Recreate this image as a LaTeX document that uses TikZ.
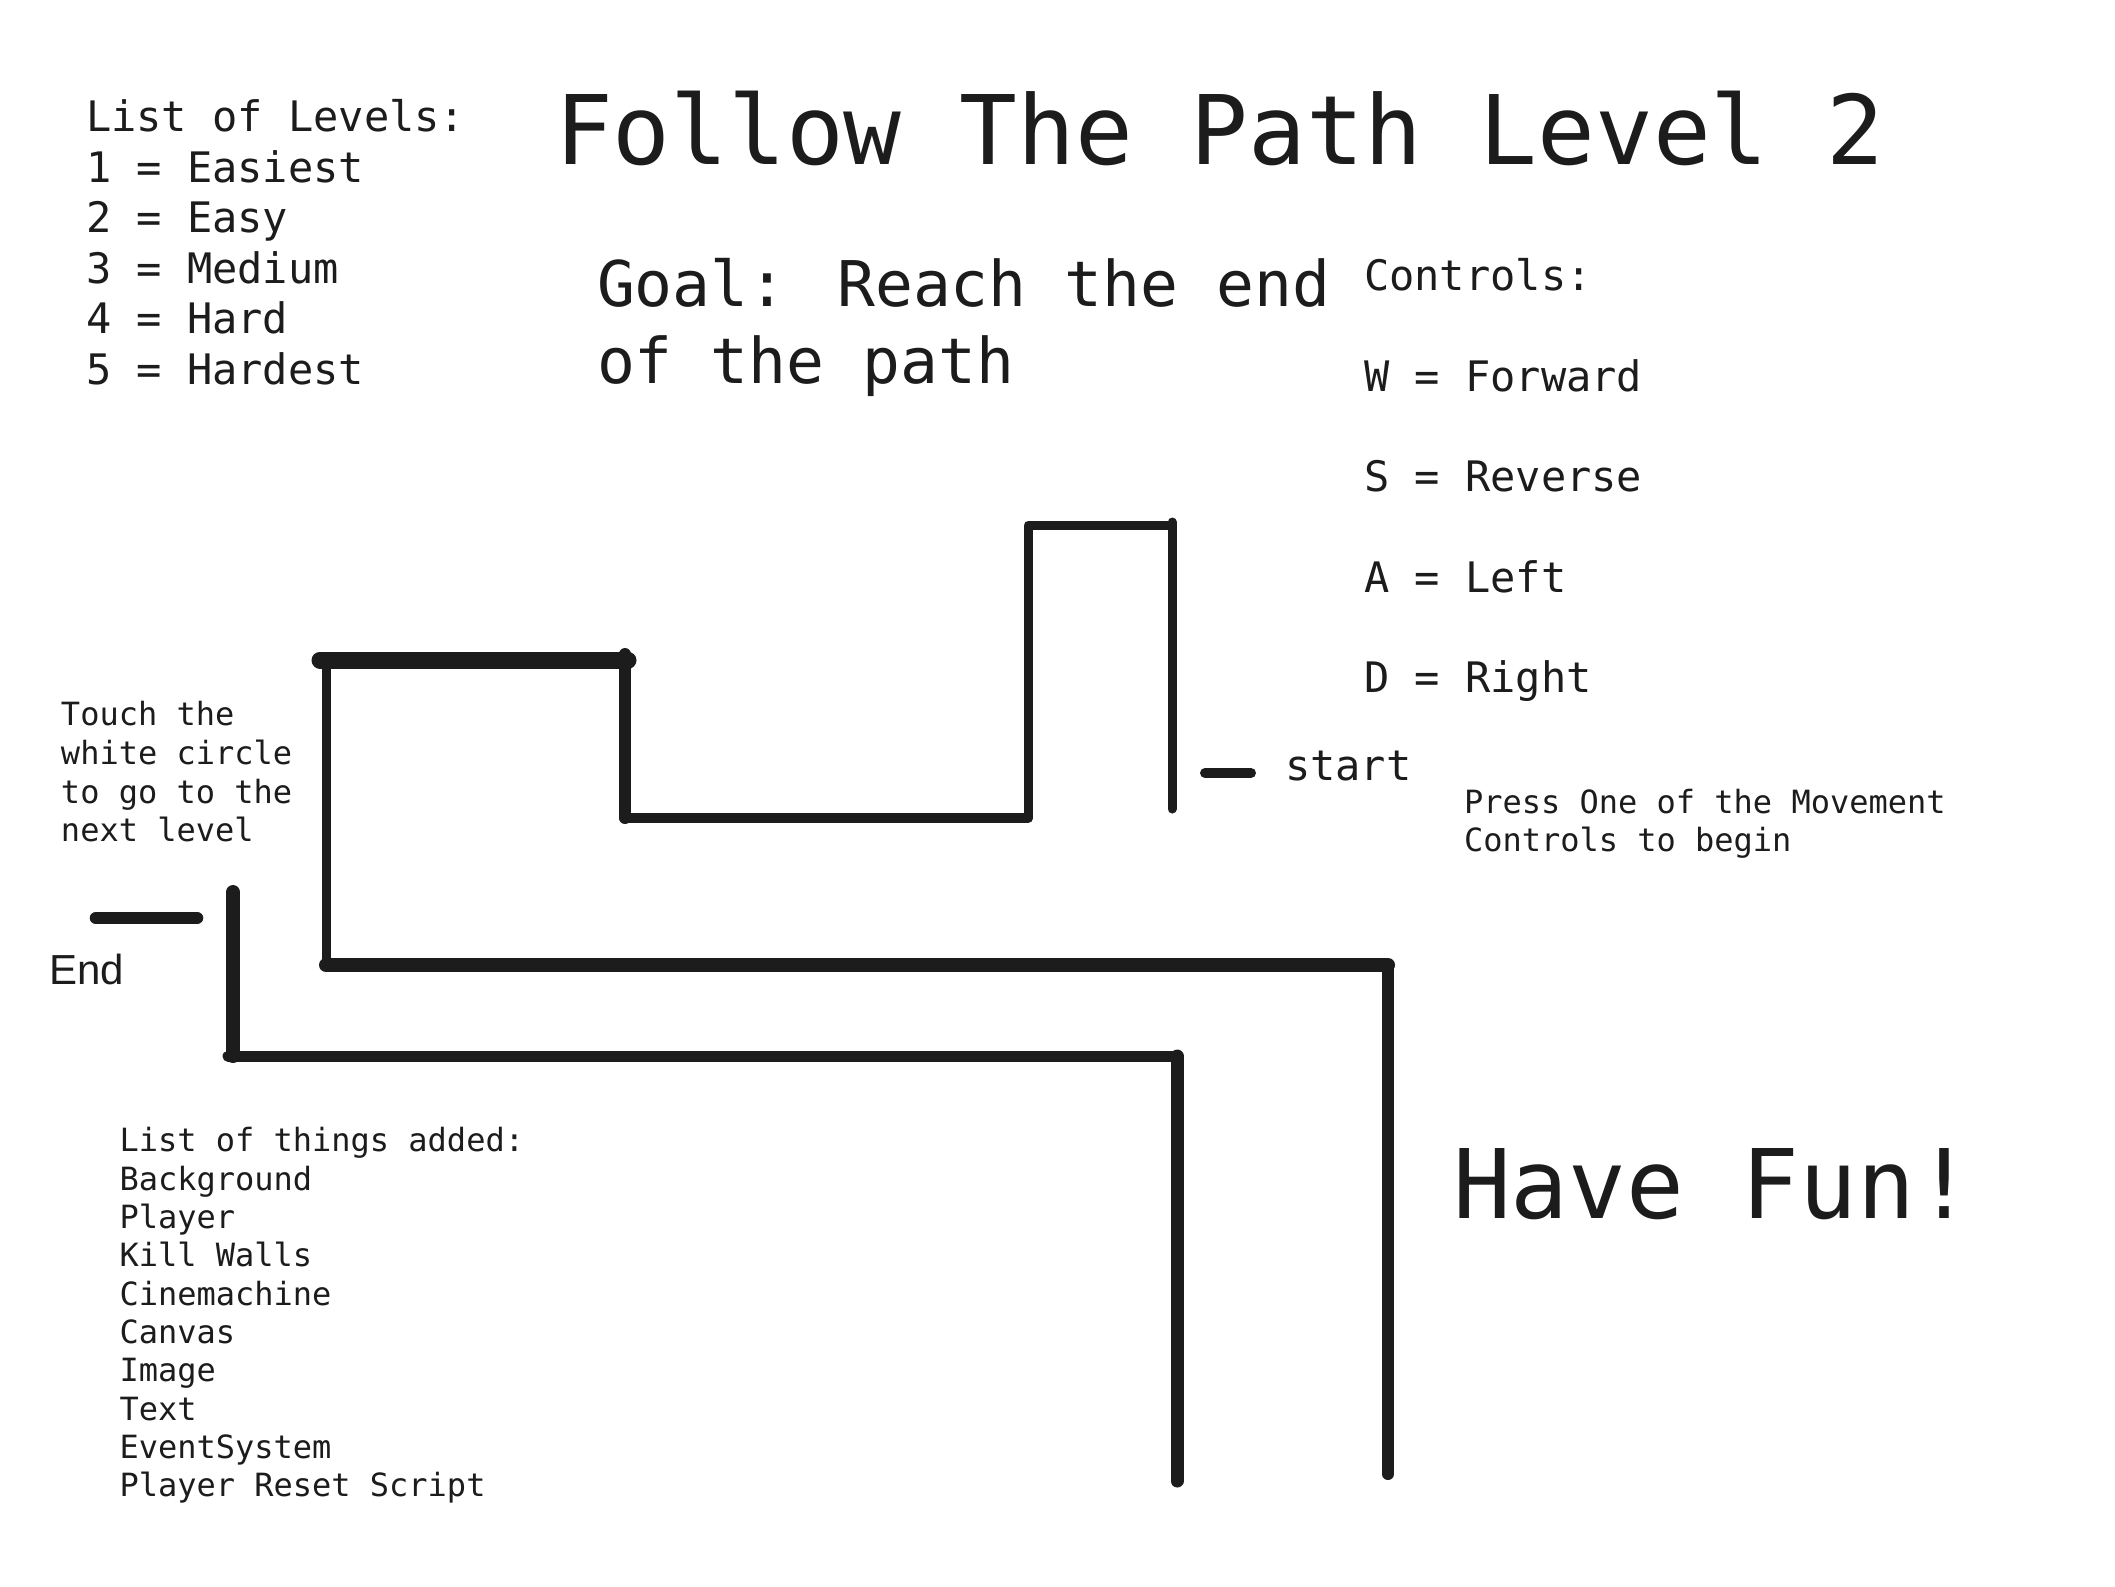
\documentclass[tikz,border=0pt]{standalone}
\usepackage{fontspec}
\newfontfamily\monof{DejaVu Sans Mono}
\newfontfamily\sansf{Liberation Sans}
\definecolor{ink}{RGB}{28,28,28}
\tikzset{
  txt/.style={anchor=base west, inner sep=0pt, outer sep=0pt, text=ink},
  huge/.style={txt, font=\monof\fontsize{48}{56}\selectfont},
  big/.style={txt, font=\monof\fontsize{31.5}{38}\selectfont},
  mid/.style={txt, font=\monof\fontsize{21}{25}\selectfont},
  small/.style={txt, font=\monof\fontsize{16}{19}\selectfont},
  wall/.style={draw=ink, line cap=round, line join=round},
}
\begin{document}
\begin{tikzpicture}[x=0.5pt,y=-0.5pt]
\useasboundingbox (0,0) rectangle (2115,1586);
\fill[white] (0,0) rectangle (2115,1586);

% title
\node[huge] (title) at (555,164) {Follow The Path Level 2};

% list of levels
\foreach \t [count=\i] in {List of Levels:,1 = Easiest,2 = Easy,3 = Medium,4 = Hard,5 = Hardest}
  \node[mid] (lv\i) at (86,{131.7+50.5*(\i-1)}) {\t};

% goal
\node[big] (goal1) at (597,306) {Goal: Reach the end};
\node[big] (goal2) at (597,383.3) {of the path};

% controls
\foreach \t [count=\i] in {Controls:,W = Forward,S = Reverse,A = Left,D = Right}
  \node[mid] (ct\i) at (1364,{290.6+100.5*(\i-1)}) {\t};

% start
\node[mid] (start) at (1285,780) {start};
\node[small] (press1) at (1464,813.4) {Press One of the Movement};
\node[small] (press2) at (1464,851) {Controls to begin};

% touch
\foreach \t [count=\i] in {Touch the,white circle,to go to the,next level}
  \node[small] (tc\i) at (61,{725.7+38.7*(\i-1)}) {\t};

% end
\node[txt, font=\sansf\fontsize{21}{25}\selectfont] (endlbl) at (49,984) {End};

% things added
\foreach \t [count=\i] in {List of things added:,Background,Player,Kill Walls,Cinemachine,Canvas,Image,Text,EventSystem,Player Reset Script}
  \node[small] (th\i) at (119.5,{1151.7+38.33*(\i-1)}) {\t};

% have fun
\node[huge] (fun) at (1453,1218.3) {Have Fun!};

% path walls
\draw[wall, line width=8.5pt] (320,660) -- (628,660);
\draw[wall, line width=4.5pt] (326,660) -- (326,965);
\draw[wall, line width=6pt] (625,654) -- (625,818);
\draw[wall, line width=5pt] (625,818) -- (1028,818);
\draw[wall, line width=4.5pt] (1028,818) -- (1028,525) -- (1172,525);
\draw[wall, line width=4.5pt] (1172,522) -- (1172,809);
\draw[wall, line width=5pt] (1205,773) -- (1251,773);
\draw[wall, line width=7pt] (326,965) -- (1388,965);
\draw[wall, line width=6pt] (1388,965) -- (1388,1474);
\draw[wall, line width=6.3pt] (96,918) -- (197,918);
\draw[wall, line width=7pt] (233,892) -- (233,1056);
\draw[wall, line width=5.5pt] (228,1056) -- (1177,1056);
\draw[wall, line width=6.5pt] (1177,1056) -- (1177,1481);
\end{tikzpicture}
\end{document}
